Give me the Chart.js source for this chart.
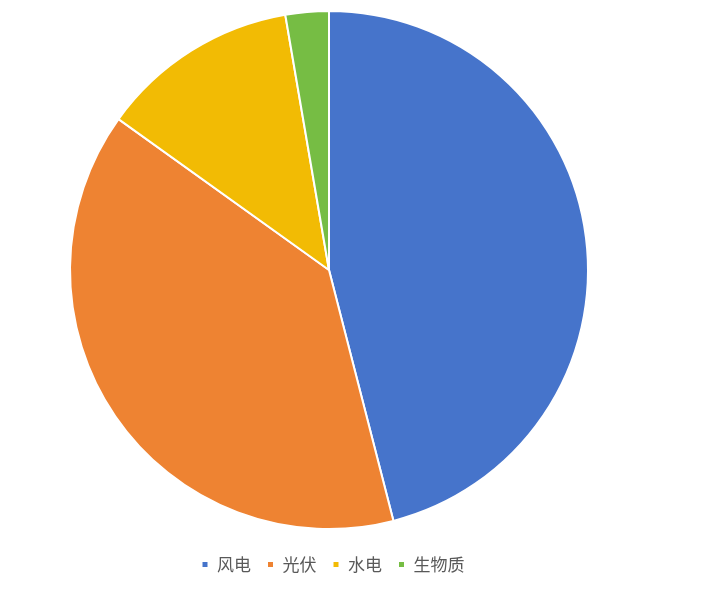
<!DOCTYPE html>
<html><head><meta charset="utf-8">
<script src="https://cdn.jsdelivr.net/npm/chart.js@4/dist/chart.umd.min.js"></script>
<style>html,body{margin:0;padding:0;background:#fff;}#wrap{width:703px;height:594px;}</style>
</head><body><div id="wrap"><canvas id="c" width="703" height="594"></canvas></div>
<script>
const categories = ['风电', '光伏', '水电', '生物质'];
const shares = [46.0, 38.9, 12.4, 2.7];
const colors = ['#4674CB', '#EE8332', '#F2BB04', '#76BD44'];

const legendShift = {
  id: 'legendShift',
  afterLayout(chart) {
    if (chart.legend) { chart.legend.left += 4; chart.legend.right += 4; }
  }
};

new Chart(document.getElementById('c'), {
  type: 'pie',
  data: {
    labels: categories,
    datasets: [{ data: shares, backgroundColor: colors, borderColor: '#ffffff', borderWidth: 2 }]
  },
  options: {
    responsive: false,
    animation: false,
    layout: { padding: { top: -6, left: 69, right: 114, bottom: 11 } },
    plugins: {
      tooltip: { enabled: false },
      legend: {
        position: 'bottom',
        fullSize: true,
        labels: {
          boxWidth: 7, boxHeight: 7, padding: 16,
          color: '#595959',
          font: { size: 17, family: "'Noto Sans CJK SC', sans-serif" }
        }
      }
    }
  },
  plugins: [legendShift]
});
</script></body></html>
